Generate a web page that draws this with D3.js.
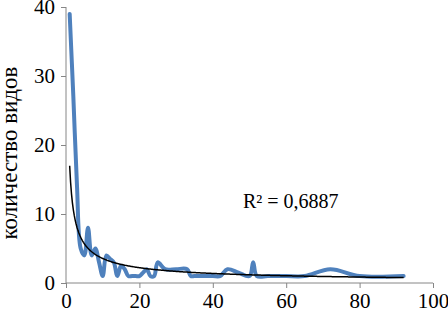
<!DOCTYPE html>
<html>
<head>
<meta charset="UTF-8">
<script src="https://cdn.jsdelivr.net/npm/d3@7"></script>
<style>
  body { margin: 0; background: #fff; }
  text { font-family: "Liberation Serif", "Times New Roman", serif; fill: #000; }
</style>
</head>
<body>
<div id="chart"></div>
<script>
// observed values (x = class, y = number of species)
const xValues = [1, 2, 3, 4, 5, 6, 7, 8, 9, 10, 11, 12, 13, 14, 15, 16, 17, 18, 19, 20,
                 21, 22, 23, 24, 25, 27, 30, 33, 34, 35, 40, 42, 44, 47, 50, 51, 52, 55,
                 60, 65, 72, 80, 92];
const yValues = [39, 27, 14, 5, 4, 8, 4, 5, 3, 1, 4, 3.5, 3, 1, 2.5, 2, 1, 1, 1, 1,
                 1.5, 2, 1, 1, 3, 2, 2, 2, 1, 1, 1, 1, 2, 1.5, 1, 3, 1, 1,
                 1, 1, 2, 1, 1];

// power trendline y = a * x^b
const trendA = 17;
const trendB = -0.68;
const rSquaredLabel = "R² = 0,6887";

const xTicks = [0, 20, 40, 60, 80, 100];
const yTicks = [0, 10, 20, 30, 40];
const yTitle = "количество видов";

const width = 448, height = 314;
const margin = {top: 7, right: 15, bottom: 31, left: 66};

const svg = d3.select("#chart")
    .append("svg")
    .attr("width", width)
    .attr("height", height);

const x = d3.scaleLinear().domain([0, 100]).range([margin.left, width - margin.right]);
const y = d3.scaleLinear().domain([0, 40]).range([height - margin.bottom, margin.top]);

// axes
const xAxis = svg.append("g")
    .attr("transform", `translate(0, ${y(0)})`)
    .call(d3.axisBottom(x).tickValues(xTicks).tickSize(5).tickPadding(5));
const yAxis = svg.append("g")
    .attr("transform", `translate(${x(0)}, 0)`)
    .call(d3.axisLeft(y).tickValues(yTicks).tickSize(5).tickPadding(6));

[xAxis, yAxis].forEach(a => {
    a.select(".domain").attr("stroke", "#868686").attr("stroke-width", 1);
    a.selectAll(".tick line").attr("stroke", "#868686");
    a.selectAll(".tick text")
        .style("font-family", "'Liberation Serif', serif")
        .style("font-size", "21px")
        .attr("fill", "#000");
});
xAxis.select(".domain").attr("d", `M${x(0)},0H${x(100)}`);
yAxis.select(".domain").attr("d", `M0,${y(0)}V${y(40)}`);

// y title
svg.append("text")
    .attr("transform", `translate(17, ${(y(0) + y(40)) / 2 + 8}) rotate(-90)`)
    .attr("text-anchor", "middle")
    .style("font-size", "23px")
    .text(yTitle);

// smoothed data line
const data = xValues.map((v, i) => ({x: v, y: yValues[i]}));
const line = d3.line()
    .x(d => x(d.x))
    .y(d => y(d.y))
    .curve(d3.curveCatmullRom.alpha(0.5));

svg.append("path")
    .datum(data)
    .attr("d", line)
    .attr("fill", "none")
    .attr("stroke", "#4F81BD")
    .attr("stroke-width", 4)
    .attr("stroke-linejoin", "round")
    .attr("stroke-linecap", "round");

// trendline
const trendX = d3.range(1, 92.01, 0.25);
const trend = trendX.map(v => ({x: v, y: trendA * Math.pow(v, trendB)}));
svg.append("path")
    .datum(trend)
    .attr("d", d3.line().x(d => x(d.x)).y(d => y(d.y)))
    .attr("fill", "none")
    .attr("stroke", "#000")
    .attr("stroke-width", 1.5);

svg.append("text")
    .attr("x", 243)
    .attr("y", 208)
    .style("font-size", "20px")
    .text(rSquaredLabel);
</script>
</body>
</html>
